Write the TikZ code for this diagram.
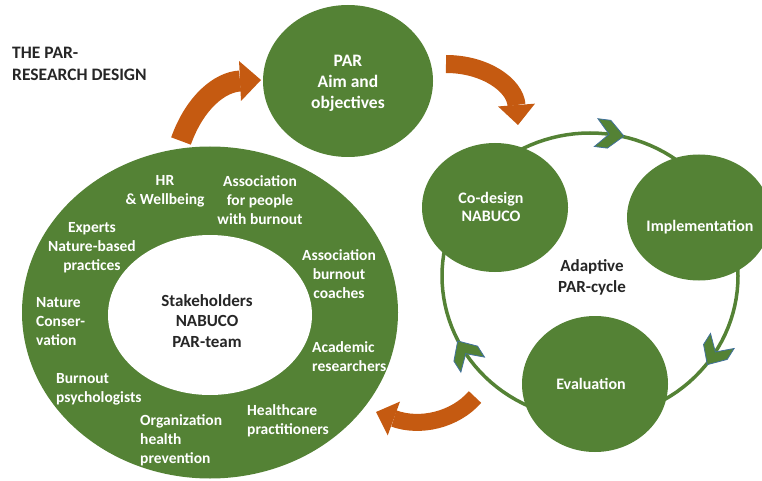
\documentclass[tikz,border=0pt]{standalone}
\usepackage{fontspec}
\setmainfont{Carlito}
\usetikzlibrary{shapes.geometric,arrows.meta,decorations.markings}
\definecolor{pgreen}{HTML}{548235}
\definecolor{porange}{HTML}{C55A11}
\definecolor{pblue}{HTML}{41719C}
\definecolor{ptext}{HTML}{262626}
\newcommand\mychev{\filldraw[chev] (-14,-14) -- (-1,-14) -- (14,0) -- (-1,14) -- (-14,14) -- (-1,0) -- cycle;}
\begin{document}
\begin{tikzpicture}[x=1pt,y=-1pt,
  bub/.style={ellipse, fill=pgreen, draw=none, inner sep=0pt},
  wlab/.style={text=white, font=\bfseries\fontsize{15.5}{19}\selectfont, align=center, inner sep=0pt},
  wlabl/.style={wlab, align=left, anchor=west},
  blab/.style={text=ptext, font=\bfseries\fontsize{17}{20.5}\selectfont, align=center, inner sep=0pt},
  chev/.style={fill=pgreen, draw=pblue, line width=0.8pt, line join=miter},
  ringline/.style={draw=pgreen, line width=3.5pt}
]
\useasboundingbox (0,0) rectangle (762,481);

% adaptive cycle ring with chevrons
\draw[ringline, postaction={decorate}, decoration={markings,
  mark=at position 0.089 with {\mychev},
  mark=at position 0.411 with {\mychev},
  mark=at position 0.772 with {\mychev}}]
  plot[domain=0:360, samples=121] ({590+148*cos(\x)},{276+143*sin(\x)});

% stakeholder ring
\node[bub, minimum width=376pt, minimum height=332pt] (stake) at (210,312.5) {};
\node[ellipse, fill=white, draw=none, inner sep=0pt, minimum width=204pt, minimum height=160pt] (inner) at (210,315) {};

% circles
\node[bub, minimum width=170pt, minimum height=152pt] (par) at (348,81) {};
\node[bub, minimum width=146pt, minimum height=129pt] (codesign) at (495,207.5) {};
\node[bub, minimum width=144pt, minimum height=126pt] (impl) at (699,217.5) {};
\node[bub, minimum width=146pt, minimum height=136pt] (eval) at (595,384) {};

% circle labels
\node[wlab, font=\bfseries\fontsize{17.5}{21}\selectfont] (partxt) at (348,83) {PAR\\Aim and\\objectives};
\node[wlab, font=\bfseries\fontsize{16}{18.5}\selectfont] (codtxt) at (491,207) {Co-design\\NABUCO};
\node[wlab, font=\bfseries\fontsize{16}{19}\selectfont] (imptxt) at (700,227) {Implementation};
\node[wlab, font=\bfseries\fontsize{16}{19}\selectfont] (evatxt) at (591,384) {Evaluation};
\node[blab] (adapt) at (592,277.5) {Adaptive\\PAR-cycle};
\node[blab] (stktxt) at (207,321) {Stakeholders\\NABUCO\\PAR-team};

% stakeholder labels
\node[wlab] (hr) at (165,191) {HR\\\& Wellbeing};
\node[wlab] (assoc1) at (260,200) {Association\\for people\\with burnout};
\node[wlab] (experts) at (92,248) {Experts\\Nature-based\\practices};
\node[wlab] (assoc2) at (339,274) {Association\\burnout\\coaches};
\node[wlabl] (nature) at (36,322) {Nature\\Conser-\\vation};
\node[wlabl] (academic) at (312,356.5) {Academic\\researchers};
\node[wlabl] (burnout) at (56,389.5) {Burnout\\psychologists};
\node[wlabl] (health) at (247,421) {Healthcare\\practitioners};
\node[wlabl] (org) at (140,440) {Organization\\health\\prevention};

% title
\node[blab, align=left, anchor=west, font=\bfseries\fontsize{17.5}{22}\selectfont] (title) at (12,64) {THE PAR-\\RESEARCH DESIGN};

% orange arrows
\coordinate (a1s) at (181,141);
\coordinate (a1e) at (261,80);
\coordinate (a2s) at (446,64);
\coordinate (a2e) at (518,125);
\coordinate (a3s) at (475,397);
\coordinate (a3e) at (376,412);
\draw[draw=porange, line width=21pt, -{Triangle[length=21pt,width=40pt,line width=0pt]}]
  (a1s) .. controls (195,102) and (220,82) .. (a1e);
\draw[draw=porange, line width=18pt, -{Triangle[length=20pt,width=37pt,line width=0pt]}]
  (a2s) .. controls (485,64) and (515,85) .. (a2e);
\draw[draw=porange, line width=17pt, -{Triangle[length=19pt,width=36pt,line width=0pt]}]
  (a3s) .. controls (455,420) and (420,428) .. (a3e);
\end{tikzpicture}
\end{document}
